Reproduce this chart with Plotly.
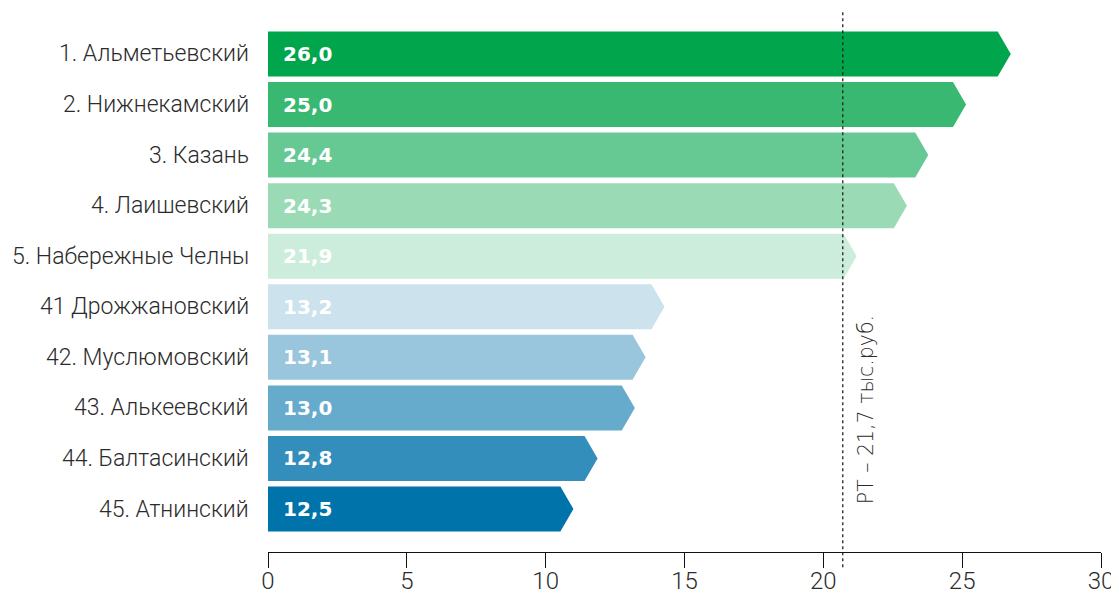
import plotly.graph_objects as go

# ---- data ----
districts = [
    "1. Альметьевский", "2. Нижнекамский", "3. Казань", "4. Лаишевский",
    "5. Набережные Челны", "41 Дрожжановский", "42. Муслюмовский",
    "43. Алькеевский", "44. Балтасинский", "45. Атнинский",
]
value_labels = ["26,0", "25,0", "24,4", "24,3", "21,9", "13,2", "13,1", "13,0", "12,8", "12,5"]
# drawn bar lengths (arrow tip position) as read against the axis
bar_ends = [26.75, 25.14, 23.78, 23.01, 21.20, 14.28, 13.60, 13.21, 11.87, 11.00]
bar_colors = ["#00A54C", "#38B870", "#66C994", "#9ADBB6", "#CDEDDC",
              "#CCE2EC", "#99C6DD", "#66AACC", "#338EBB", "#0073AA"]
rt_value = 20.7
rt_label = "РТ – 21,7 тыс.руб."
x_ticks = [0, 5, 10, 15, 20, 25, 30]

TIP = 0.47    # arrow tip depth (axis units)
HALF = 0.445  # half bar thickness (category units)
LIGHT = "Roboto Light, Roboto, sans-serif"

fig = go.Figure()
for i, (end, col) in enumerate(zip(bar_ends, bar_colors)):
    body = end - TIP
    fig.add_trace(go.Scatter(
        x=[0, body, end, body, 0, 0],
        y=[i - HALF, i - HALF, i, i + HALF, i + HALF, i - HALF],
        mode="lines", fill="toself", fillcolor=col,
        line=dict(width=0, color=col), hoverinfo="skip", showlegend=False,
    ))
    fig.add_annotation(x=0, y=i, xref="x", yref="y", text=districts[i],
                       xanchor="right", yanchor="middle", xshift=-17, showarrow=False,
                       font=dict(family=LIGHT, size=23, color="#2b2b2b", weight=300))
    fig.add_annotation(x=0, y=i, xref="x", yref="y", text=value_labels[i],
                       xanchor="left", yanchor="middle", xshift=13, showarrow=False,
                       font=dict(family="DejaVu Sans", size=20, color="white", weight="bold"))

fig.add_shape(type="line", xref="x", yref="paper", x0=rt_value, x1=rt_value,
              y0=-0.028, y1=1.0, line=dict(color="#222", width=1.3, dash="dot"))
fig.add_annotation(x=rt_value, y=7.03, xref="x", yref="y", text=rt_label, textangle=-90,
                   xanchor="left", yanchor="middle", xshift=10, showarrow=False,
                   font=dict(family="DejaVu Sans", size=20.5, color="#2b2b2b", weight=300))

fig.update_layout(
    width=1111, height=586,
    margin=dict(l=260, r=18, t=2, b=42),
    paper_bgcolor="white", plot_bgcolor="white",
    xaxis=dict(range=[0, 30], tickvals=x_ticks, ticktext=[str(v) for v in x_ticks],
               automargin=False, ticklabelstandoff=-8,
               showgrid=False, zeroline=False, showline=True, linecolor="#111", linewidth=1.2,
               ticks="outside", ticklen=15, tickcolor="#111", tickwidth=1.2,
               tickfont=dict(family=LIGHT, size=24, color="#2b2b2b", weight=300)),
    yaxis=dict(range=[9.85, -0.87], automargin=False, showgrid=False, zeroline=False,
               showline=False, showticklabels=False, ticks=""),
)

fig.write_html("out.html")
